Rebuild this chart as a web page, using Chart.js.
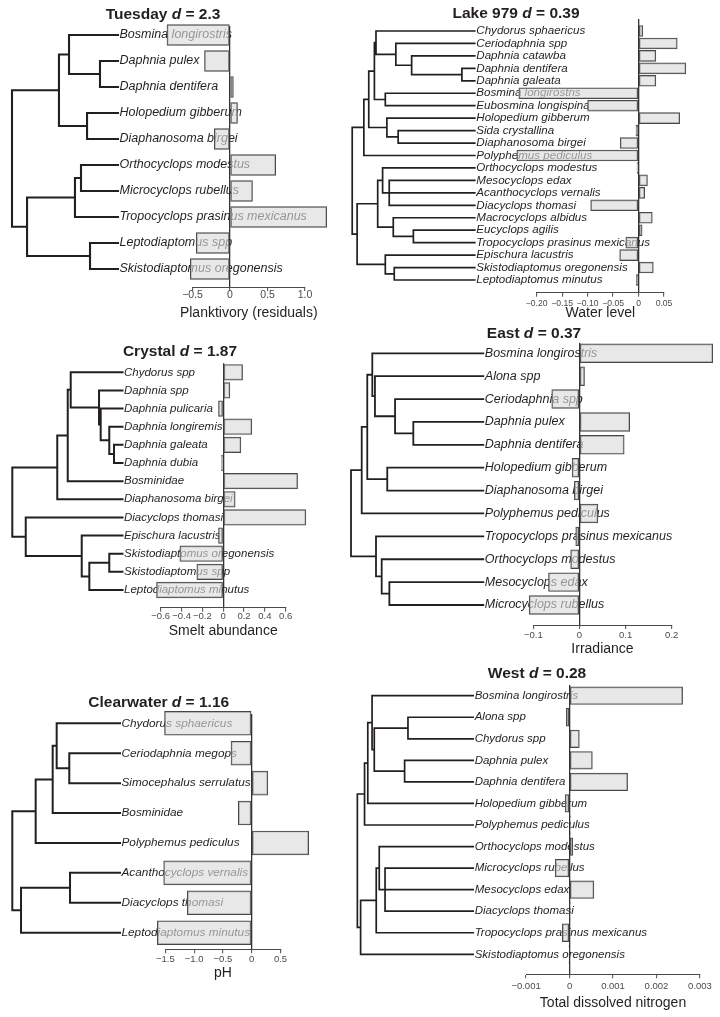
<!DOCTYPE html>
<html>
<head>
<meta charset="utf-8">
<script src="https://cdn.jsdelivr.net/npm/chart.js@4.4.1/dist/chart.umd.min.js"></script>
<style>
  html, body { margin: 0; padding: 0; background: #fff; }
  #page { position: relative; width: 720px; height: 1017px; overflow: hidden; }
  #page canvas { position: absolute; }
</style>
</head>
<body>
<div id="page"></div>
<script>
// ---- data ---------------------------------------------------------------
// Trees are nested [depth, child, child, ...]; a bare number is a tip index.
// Depth runs from 0 at the root to 100 at the tips.

const tuesdaySpecies = ['Bosmina longirostris', 'Daphnia pulex', 'Daphnia dentifera', 'Holopedium gibberum',
    'Diaphanosoma birgei', 'Orthocyclops modestus', 'Microcyclops rubellus', 'Tropocyclops prasinus mexicanus',
    'Leptodiaptomus spp', 'Skistodiaptomus oregonensis'];
const tuesdayValues = [-0.84, -0.34, 0.045, 0.10, -0.21, 0.61, 0.30, 1.29, -0.45, -0.53];
const tuesdayTree = [0, [44.3, [53.8, 0, [83.0, 1, 2]], [70.8, 3, 4]], [14.2, [59.4, [65.1, 5, 6], 7], [73.6, 8, 9]]];
const tuesdayTicks = [-0.5, 0, 0.5, 1.0];
const tuesdayTickLabels = ['\u22120.5', '0', '0.5', '1.0'];

const lakeSpecies = ['Chydorus sphaericus', 'Ceriodaphnia spp', 'Daphnia catawba', 'Daphnia dentifera',
    'Daphnia galeata', 'Bosmina longirostris', 'Eubosmina longispina', 'Holopedium gibberum', 'Sida crystallina',
    'Diaphanosoma birgei', 'Polyphemus pediculus', 'Orthocyclops modestus', 'Mesocyclops edax',
    'Acanthocyclops vernalis', 'Diacyclops thomasi', 'Macrocyclops albidus', 'Eucyclops agilis',
    'Tropocyclops prasinus mexicanus', 'Epischura lacustris', 'Skistodiaptomus oregonensis', 'Leptodiaptomus minutus'];
const lakeValues = [0.0084, 0.076, 0.034, 0.093, 0.034, -0.235, -0.10, 0.081, -0.005, -0.036, -0.239,
    -0.003, 0.0175, 0.012, -0.094, 0.027, 0.007, -0.025, -0.037, 0.029, -0.0045];
const lakeTree = [0,
    [9.5, [13.5, [18.1, [19.4, 0, [35.6, 1, [48.5, 2, [89.5, 3, 4]]]], [27.0, 5, 6]], [28.3, 7, [37.5, 8, 9]]], 10],
    [4.0, [20.8, [24.8, 11, [30.2, 12, 13, 14]], [33.5, 15, [49.9, 16, 17]]], [27.0, 18, [34.3, 19, 20]]]];
const lakeTicks = [-0.20, -0.15, -0.10, -0.05, 0, 0.05];
const lakeTickLabels = ['\u22120.20', '\u22120.15', '\u22120.10', '\u22120.05', '0', '0.05'];

const crystalSpecies = ['Chydorus spp', 'Daphnia spp', 'Daphnia pulicaria', 'Daphnia longiremis', 'Daphnia galeata',
    'Daphnia dubia', 'Bosminidae', 'Diaphanosoma birgei', 'Diacyclops thomasi', 'Epischura lacustris',
    'Skistodiaptomus oregonensis', 'Skistodiaptomus spp', 'Leptodiaptomus minutus'];
const crystalValues = [0.186, 0.064, -0.045, 0.275, 0.17, -0.016, 0.714, 0.115, 0.794, -0.045, -0.416, -0.253, -0.64];
const crystalTree = [0, [40.8, [50.3, [53.0, 0, [78.7, 1, [80.2, 2, [88.0, 3, [92.3, 4, 5]]]]], 6], 7],
    [12.2, 8, [63.0, 9, [69.9, [88.0, 10, 11], 12]]]];
const crystalTicks = [-0.6, -0.4, -0.2, 0, 0.2, 0.4, 0.6];
const crystalTickLabels = ['\u22120.6', '\u22120.4', '\u22120.2', '0', '0.2', '0.4', '0.6'];

const eastSpecies = ['Bosmina longirostris', 'Alona spp', 'Ceriodaphnia spp', 'Daphnia pulex', 'Daphnia dentifera',
    'Holopedium gibberum', 'Diaphanosoma birgei', 'Polyphemus pediculus', 'Tropocyclops prasinus mexicanus',
    'Orthocyclops modestus', 'Mesocyclops edax', 'Microcyclops rubellus'];
const eastValues = [0.289, 0.011, -0.060, 0.109, 0.097, -0.016, -0.011, 0.040, -0.008, -0.019, -0.067, -0.109];
const eastTree = [0, [8.1, [12.3, [16.1, 0, [18.1, 1, [33.3, 2, [47.1, 3, 4]]]], [27.4, 5, 6]], 7],
    [18.9, 8, [23.2, 9, [29.0, 10, 11]]]];
const eastTicks = [-0.1, 0, 0.1, 0.2];
const eastTickLabels = ['\u22120.1', '0', '0.1', '0.2'];

const clearSpecies = ['Chydorus sphaericus', 'Ceriodaphnia megops', 'Simocephalus serrulatus', 'Bosminidae',
    'Polyphemus pediculus', 'Acanthocyclops vernalis', 'Diacyclops thomasi', 'Leptodiaptomus minutus'];
const clearValues = [-1.515, -0.36, 0.28, -0.233, 0.99, -1.53, -1.12, -1.64];
const clearTree = [0, [21.7, [37.5, [41.2, 0, [52.9, 1, 2]], 3], 4], [8.1, [53.6, 5, 6], 7]];
const clearTicks = [-1.5, -1.0, -0.5, 0, 0.5];
const clearTickLabels = ['\u22121.5', '\u22121.0', '\u22120.5', '0', '0.5'];

const westSpecies = ['Bosmina longirostris', 'Alona spp', 'Chydorus spp', 'Daphnia pulex', 'Daphnia dentifera',
    'Holopedium gibberum', 'Polyphemus pediculus', 'Orthocyclops modestus', 'Microcyclops rubellus',
    'Mesocyclops edax', 'Diacyclops thomasi', 'Tropocyclops prasinus mexicanus', 'Skistodiaptomus oregonensis'];
const westValues = [0.0026, -0.000075, 0.000225, 0.000525, 0.001335, -0.0001, 0.00002, 0.000075, -0.00033,
    0.00056, 0.00001, -0.000165, -0.000015];
const westTree = [0, [6.2, [9.0, [12.7, 0, [14.6, [43.7, 1, 2], [40.8, 3, 4]]], 5], 6],
    [2.8, [16.3, [18.9, 7, [23.9, 8, 9, 10]], 11], 12]];
const westTicks = [-0.001, 0, 0.001, 0.002, 0.003];
const westTickLabels = ['\u22120.001', '0', '0.001', '0.002', '0.003'];

// ---- layout (page pixels) --------------------------------------------------
const FONT = '"Liberation Sans", Arial, Helvetica, sans-serif';
const INK = '#231f20';

const panels = [
    { name: 'Tuesday', d: '2.3', axis: 'Planktivory (residuals)',
      species: tuesdaySpecies, values: tuesdayValues, tree: tuesdayTree, ticks: tuesdayTicks, tickLabels: tuesdayTickLabels,
      box: [0, 0, 340, 325], rootX: 12, tipX: 118, axisX: [192.5, 305], tips: [35, 269], top: 26, axisY: 287,
      titleAt: [163, 19], labelSize: 12.5, tickSize: 10.5, tickDy: 8, titleDy: 26, bar: 0.8, line: 2.1 },
    { name: 'Lake 979', d: '0.39', axis: 'Water level',
      species: lakeSpecies, values: lakeValues, tree: lakeTree, ticks: lakeTicks, tickLabels: lakeTickLabels,
      box: [340, 0, 380, 325], rootX: 349.3, tipX: 473, axisX: [535.5, 664], tips: [31, 280], top: 19, axisY: 292.7,
      titleAt: [516, 18], labelSize: 11.6, tickSize: 8.6, tickDy: 10.5, titleDy: 20.5, bar: 0.88, line: 1.7 },
    { name: 'Crystal', d: '1.87', axis: 'Smelt abundance',
      species: crystalSpecies, values: crystalValues, tree: crystalTree, ticks: crystalTicks, tickLabels: crystalTickLabels,
      box: [0, 325, 340, 320], rootX: 12.3, tipX: 122.5, axisX: [160.7, 285.7], tips: [372.3, 590], top: 363.3, axisY: 607.7,
      titleAt: [180, 356], labelSize: 11.5, tickSize: 9.5, tickDy: 8.5, titleDy: 23.3, bar: 0.86, line: 2 },
    { name: 'East', d: '0.37', axis: 'Irradiance',
      species: eastSpecies, values: eastValues, tree: eastTree, ticks: eastTicks, tickLabels: eastTickLabels,
      box: [340, 325, 380, 335], rootX: 351, tipX: 483.3, axisX: [533.3, 671.7], tips: [353.3, 605], top: 342.7, axisY: 625,
      titleAt: [534, 337.7], labelSize: 12.5, tickSize: 9.5, tickDy: 10, titleDy: 24, bar: 0.82, line: 1.8 },
    { name: 'Clearwater', d: '1.16', axis: 'pH',
      species: clearSpecies, values: clearValues, tree: clearTree, ticks: clearTicks, tickLabels: clearTickLabels,
      box: [0, 650, 340, 350], rootX: 12.3, tipX: 120, axisX: [165.4, 280.5], tips: [723.3, 932.7], top: 714, axisY: 949.3,
      titleAt: [158.7, 706.7], labelSize: 11.8, tickSize: 9.5, tickDy: 9.7, titleDy: 24, bar: 0.8, line: 2 },
    { name: 'West', d: '0.28', axis: 'Total dissolved nitrogen',
      species: westSpecies, values: westValues, tree: westTree, ticks: westTicks, tickLabels: westTickLabels,
      box: [340, 660, 380, 357], rootX: 350, tipX: 468.3, axisX: [522.3, 700], tips: [695.7, 954.3], top: 685, axisY: 974.3,
      titleAt: [537, 678.3], labelSize: 11.5, tickSize: 9.5, tickDy: 12.4, titleDy: 29, bar: 0.82, line: 1.7 },
];

// Walk the tree and emit elbow segments (null points break the line).
function treePoints(node, pts) {
    if (typeof node === 'number') return { d: 100, y: node };
    const [depth, ...kids] = node;
    const placed = kids.map((k) => treePoints(k, pts));
    const first = placed[0];
    const last = placed[placed.length - 1];
    pts.push({ x: first.d, y: first.y }, { x: depth, y: first.y }, { x: depth, y: last.y },
        { x: last.d, y: last.y }, { x: null, y: null });
    placed.slice(1, -1).forEach((p) => {
        pts.push({ x: depth, y: p.y }, { x: p.d, y: p.y }, { x: null, y: null });
    });
    return { d: depth, y: (first.y + last.y) / 2 };
}

function buildPanel(p) {
    const [bx, by, bw, bh] = p.box;
    const n = p.species.length;
    const step = (p.tips[1] - p.tips[0]) / (n - 1);
    const treeW = p.axisX[0] - p.rootX;
    const barW = p.axisX[1] - p.axisX[0];
    const axisH = p.titleDy + 14 * 0.6;

    const canvas = document.createElement('canvas');
    canvas.width = bw;
    canvas.height = bh;
    canvas.style.left = bx + 'px';
    canvas.style.top = by + 'px';
    document.getElementById('page').appendChild(canvas);

    const treeData = [];
    treePoints(p.tree, treeData);

    // species names sit at the tips, underneath the bars
    const tipLabels = {
        id: 'tipLabels',
        beforeDatasetsDraw(chart) {
            const { ctx } = chart;
            const xt = chart.scales.xt;
            const y = chart.scales.y;
            ctx.save();
            ctx.font = `italic ${p.labelSize}px ${FONT}`;
            ctx.fillStyle = INK;
            ctx.textBaseline = 'middle';
            ctx.textAlign = 'left';
            p.species.forEach((s, i) => {
                ctx.fillText(s, xt.getPixelForValue(100) + 1.5, y.getPixelForValue(i));
            });
            ctx.restore();
        },
    };

    // bold title with an italic "d", plus the axis title (not squeezed to the axis width)
    const panelText = {
        id: 'panelText',
        afterDraw(chart) {
            const { ctx } = chart;
            const parts = [
                [p.name + ' ', `bold 15.5px ${FONT}`],
                ['d', `italic bold 15.5px ${FONT}`],
                [' = ' + p.d, `bold 15.5px ${FONT}`],
            ];
            ctx.save();
            ctx.fillStyle = INK;
            ctx.textBaseline = 'alphabetic';
            let total = 0;
            parts.forEach(([t, f]) => { ctx.font = f; total += ctx.measureText(t).width; });
            let x = p.titleAt[0] - bx - total / 2;
            parts.forEach(([t, f]) => {
                ctx.font = f;
                ctx.fillText(t, x, p.titleAt[1] - by);
                x += ctx.measureText(t).width;
            });

            const xs = chart.scales.x;
            ctx.font = `14px ${FONT}`;
            ctx.textAlign = 'center';
            ctx.textBaseline = 'middle';
            ctx.fillText(p.axis, (xs.left + xs.right) / 2, xs.top + p.titleDy);
            ctx.restore();
        },
    };

    // both bottom scales share one stack, so both report the same height
    const fixHeight = (scale) => { scale.height = axisH; };

    new Chart(canvas, {
        type: 'bar',
        data: {
            datasets: [
                {
                    type: 'bar',
                    indexAxis: 'y',
                    xAxisID: 'x',
                    yAxisID: 'y',
                    data: p.values.map((v, i) => ({ x: v, y: i })),
                    backgroundColor: 'rgba(218,218,218,0.62)',
                    borderColor: '#474747',
                    borderWidth: 1,
                    borderSkipped: false,
                    grouped: false,
                    barThickness: p.bar * step,
                    clip: false,
                    order: 0,
                },
                {
                    type: 'line',
                    xAxisID: 'xt',
                    yAxisID: 'y',
                    data: treeData,
                    borderColor: INK,
                    borderWidth: p.line,
                    borderCapStyle: 'square',
                    borderJoinStyle: 'miter',
                    pointRadius: 0,
                    tension: 0,
                    fill: false,
                    spanGaps: false,
                    clip: false,
                    order: 1,
                },
            ],
        },
        options: {
            responsive: false,
            animation: false,
            devicePixelRatio: 1,
            events: [],
            layout: {
                padding: {
                    left: p.rootX - bx,
                    right: bx + bw - p.axisX[1],
                    top: p.top - by,
                    bottom: by + bh - p.axisY - axisH,
                },
            },
            plugins: { legend: { display: false }, tooltip: { enabled: false }, title: { display: false } },
            scales: {
                xt: {
                    type: 'linear',
                    position: 'bottom',
                    stack: 'bottom',
                    stackWeight: treeW,
                    min: 0,
                    max: 100 * treeW / (p.tipX - p.rootX),
                    display: false,
                    offset: false,
                    afterFit: fixHeight,
                    grid: { offset: false },
                },
                x: {
                    type: 'linear',
                    position: 'bottom',
                    stack: 'bottom',
                    stackWeight: barW,
                    min: p.ticks[0],
                    max: p.ticks[p.ticks.length - 1],
                    offset: false,
                    afterBuildTicks: (scale) => { scale.ticks = p.ticks.map((v) => ({ value: v })); },
                    afterFit: fixHeight,
                    ticks: {
                        autoSkip: false,
                        maxRotation: 0,
                        minRotation: 0,
                        padding: p.tickDy - 4 - p.tickSize * 0.6,
                        color: '#4a4a4a',
                        font: { family: FONT, size: p.tickSize },
                        callback: (v, i) => p.tickLabels[i],
                    },
                    grid: {
                        offset: false,
                        drawOnChartArea: true,
                        drawTicks: true,
                        tickLength: 4,
                        color: (c) => (c.tick && c.tick.value === 0 ? '#333' : 'rgba(0,0,0,0)'),
                        lineWidth: 1.3,
                        tickColor: '#4a4a4a',
                        tickWidth: 1,
                    },
                    border: { display: true, color: '#4a4a4a', width: 1 },
                    title: { display: false },
                },
                y: {
                    type: 'linear',
                    reverse: true,
                    min: (p.top - p.tips[0]) / step,
                    max: (p.axisY - p.tips[0]) / step,
                    display: false,
                    offset: false,
                    grid: { offset: false },
                    ticks: { stepSize: 1 },
                },
            },
        },
        plugins: [tipLabels, panelText],
    });
}

panels.forEach(buildPanel);
</script>
</body>
</html>
